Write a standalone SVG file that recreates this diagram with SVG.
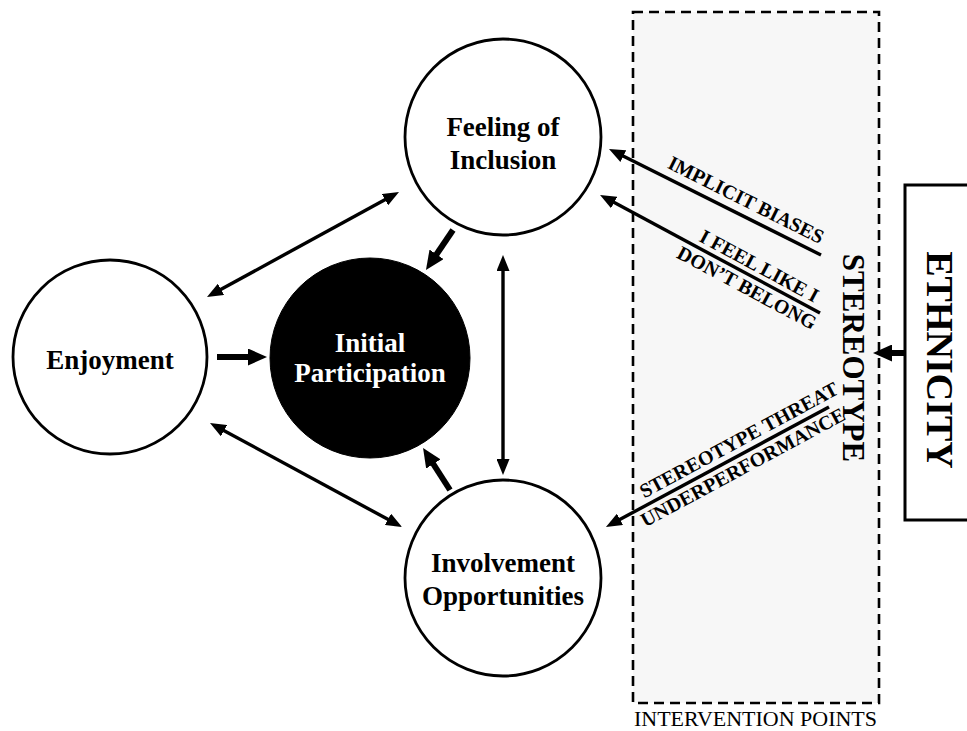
<svg xmlns="http://www.w3.org/2000/svg" width="967" height="731" viewBox="0 0 967 731">
<style>
.node{fill:#fff;stroke:#000;stroke-width:2.8}
.lbl{font-family:"Liberation Serif","Times New Roman",serif;font-weight:bold;font-size:27px;text-anchor:middle;fill:#000}
.diag{font-family:"Liberation Serif","Times New Roman",serif;font-weight:bold;font-size:20px;fill:#000}
.thin{stroke:#000;stroke-width:3.4;fill:none}
.thick{stroke:#000;stroke-width:6;fill:none}
</style>
<defs>
<marker id="ah" markerUnits="userSpaceOnUse" viewBox="0 0 16 13" markerWidth="16" markerHeight="13" refX="3" refY="6.5" orient="auto-start-reverse">
<path d="M0,0 L16,6.5 L0,13 z" fill="#000"/>
</marker>
<marker id="ahb" markerUnits="userSpaceOnUse" viewBox="0 0 19 17" markerWidth="19" markerHeight="17" refX="3" refY="8.5" orient="auto">
<path d="M0,0 L19,8.5 L0,17 z" fill="#000"/>
</marker>
</defs>
<rect width="967" height="731" fill="#fff"/>
<g id="intervention-points">
<rect x="633" y="12" width="246" height="691" fill="#f7f7f7" stroke="#000" stroke-width="2.6" stroke-dasharray="10 6"/>
<text x="634" y="726" font-family="'Liberation Serif','Times New Roman',serif" font-size="21.5" textLength="243" lengthAdjust="spacingAndGlyphs">INTERVENTION POINTS</text>
</g>
<g id="ethnicity">
<rect x="905" y="185" width="80" height="335" fill="#fff" stroke="#000" stroke-width="3"/>
<text transform="translate(927,360) rotate(90)" text-anchor="middle" font-family="'Liberation Serif','Times New Roman',serif" font-weight="bold" font-size="38">ETHNICITY</text>
</g>
<g id="stereotype">
<text transform="translate(843,358) rotate(90)" text-anchor="middle" font-family="'Liberation Serif','Times New Roman',serif" font-weight="bold" font-size="31">STEREOTYPE</text>
</g>
<g id="feeling-of-inclusion">
<circle class="node" cx="503" cy="137" r="98"/>
<text class="lbl" x="503" y="136">Feeling of</text>
<text class="lbl" x="503" y="169">Inclusion</text>
</g>
<g id="enjoyment">
<circle class="node" cx="110" cy="357" r="97"/>
<text class="lbl" x="110" y="369">Enjoyment</text>
</g>
<g id="initial-participation">
<circle cx="370" cy="358" r="100" fill="#000" stroke="#000" stroke-width="1"/>
<text class="lbl" x="370" y="352" style="fill:#fff">Initial</text>
<text class="lbl" x="370" y="382" style="fill:#fff">Participation</text>
</g>
<g id="involvement-opportunities">
<circle class="node" cx="503" cy="578" r="98"/>
<text class="lbl" x="503" y="572">Involvement</text>
<text class="lbl" x="503" y="605">Opportunities</text>
</g>
<g id="connectors">
<line class="thin" x1="387.6" y1="198.2" x2="218.4" y2="290.8" marker-start="url(#ah)" marker-end="url(#ah)"/>
<line class="thin" x1="221.4" y1="429.2" x2="390.6" y2="520.8" marker-start="url(#ah)" marker-end="url(#ah)"/>
<line class="thin" x1="503" y1="268" x2="503" y2="462" marker-start="url(#ah)" marker-end="url(#ah)"/>
<line class="thick" x1="453" y1="230" x2="434.9" y2="256.8" marker-end="url(#ahb)"/>
<line class="thick" x1="217" y1="357" x2="251" y2="357" marker-end="url(#ahb)"/>
<line class="thick" x1="450" y1="490" x2="431.7" y2="461.5" marker-end="url(#ahb)"/>
<line class="thick" x1="906" y1="353" x2="889" y2="353" marker-end="url(#ahb)"/>
<line class="thin" x1="821" y1="255" x2="620.6" y2="154.8" marker-end="url(#ah)"/>
<line class="thin" x1="820" y1="313" x2="611.5" y2="201.1" marker-end="url(#ah)"/>
<line class="thin" x1="829" y1="407" x2="617.4" y2="520.8" marker-end="url(#ah)"/>
<text class="diag" transform="translate(821,255) rotate(26.57)" text-anchor="end" x="-6" y="-9">IMPLICIT BIASES</text>
<text class="diag" transform="translate(820,313) rotate(28.2)" text-anchor="end" x="-10" y="-6">I FEEL LIKE I</text>
<text class="diag" transform="translate(820,313) rotate(28.2)" text-anchor="end" x="1" y="19">DON’T BELONG</text>
<text class="diag" transform="translate(829,407) rotate(-28.3)" text-anchor="end" x="16" y="-7">STEREOTYPE THREAT</text>
<text class="diag" transform="translate(829,407) rotate(-28.3)" text-anchor="end" x="10" y="19">UNDERPERFORMANCE</text>
</g>
</svg>
